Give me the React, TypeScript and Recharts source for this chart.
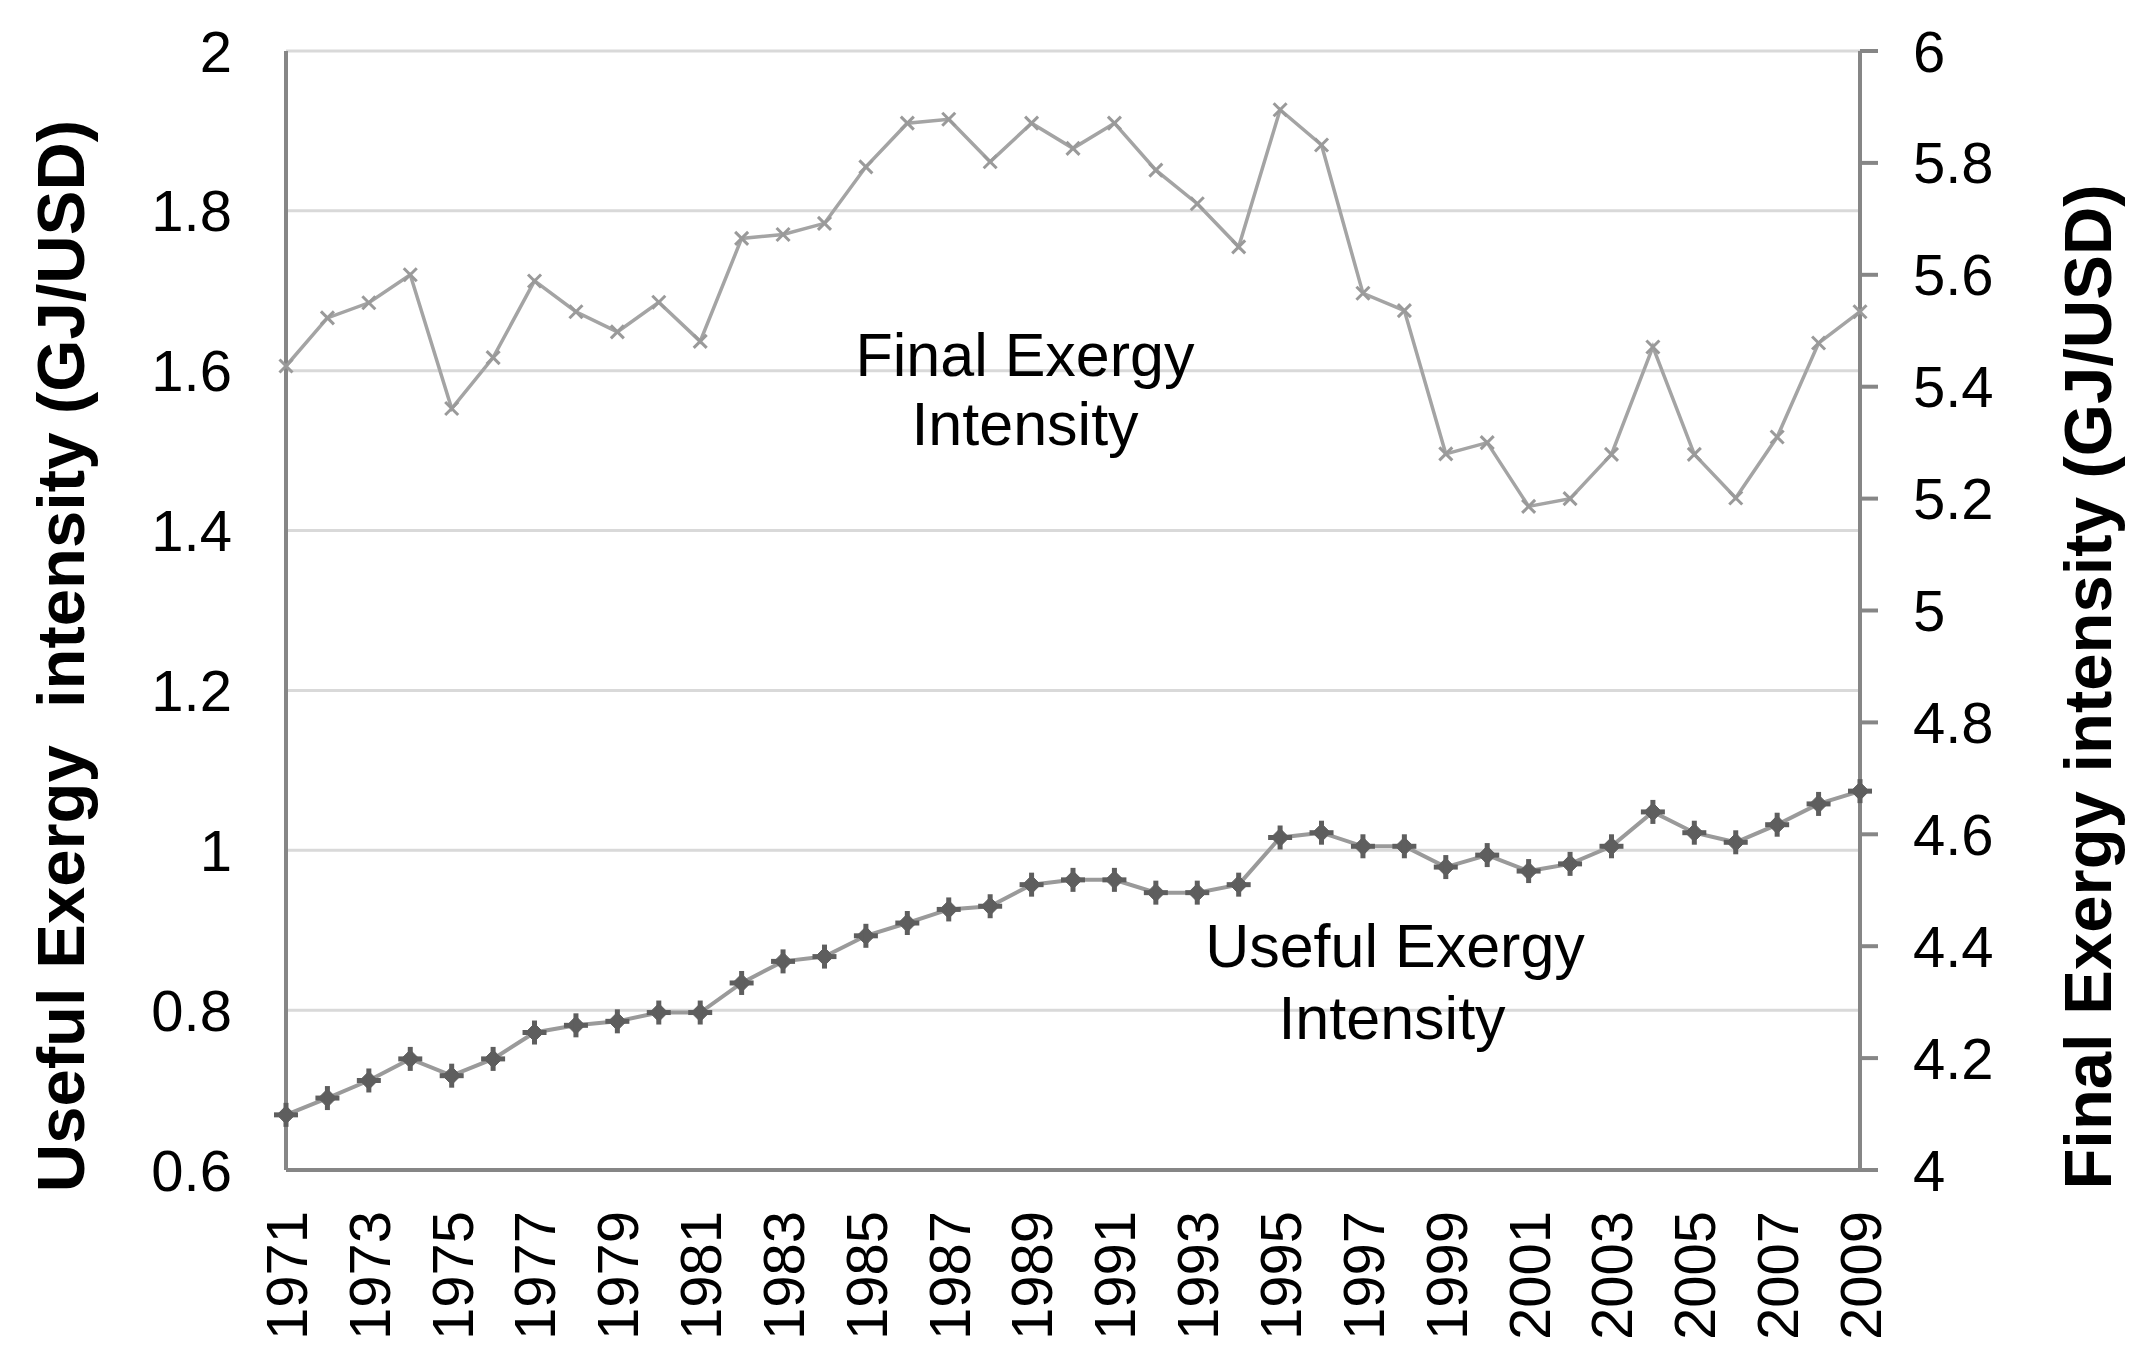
import { LineChart, Line, XAxis, YAxis, CartesianGrid } from 'recharts';

const years = [
  '1971', '1972', '1973', '1974', '1975', '1976', '1977', '1978', '1979', '1980',
  '1981', '1982', '1983', '1984', '1985', '1986', '1987', '1988', '1989', '1990',
  '1991', '1992', '1993', '1994', '1995', '1996', '1997', '1998', '1999', '2000',
  '2001', '2002', '2003', '2004', '2005', '2006', '2007', '2008', '2009',
];

// GJ/USD, left axis
const usefulExergy = [
  0.669, 0.690, 0.712, 0.739, 0.718, 0.739, 0.772, 0.781, 0.786, 0.797,
  0.797, 0.834, 0.861, 0.867, 0.893, 0.909, 0.926, 0.930, 0.957, 0.963,
  0.963, 0.947, 0.947, 0.957, 1.016, 1.022, 1.005, 1.005, 0.979, 0.994,
  0.974, 0.983, 1.005, 1.048, 1.022, 1.010, 1.032, 1.058, 1.074,
];

// GJ/USD, right axis
const finalExergy = [
  5.437, 5.523, 5.550, 5.600, 5.361, 5.452, 5.589, 5.534, 5.498, 5.551,
  5.481, 5.665, 5.672, 5.692, 5.793, 5.871, 5.878, 5.802, 5.871, 5.826,
  5.871, 5.787, 5.727, 5.650, 5.895, 5.832, 5.567, 5.536, 5.280, 5.300,
  5.186, 5.200, 5.279, 5.471, 5.279, 5.201, 5.310, 5.478, 5.534,
];

const usefulTicks = [0.6, 0.8, 1, 1.2, 1.4, 1.6, 1.8, 2];
const finalTicks = [4, 4.2, 4.4, 4.6, 4.8, 5, 5.2, 5.4, 5.6, 5.8, 6];

const data = years.map((year, i) => ({ year, useful: usefulExergy[i], final: finalExergy[i] }));

const FONT = "'Liberation Sans', Arial, sans-serif";
const AXIS = '#868686';
const GRID = '#d9d9d9';

function YearTick({ x, y, payload }: any) {
  return (
    <text x={x} y={y} dy="0.36em" transform={`rotate(-90 ${x} ${y})`} textAnchor="end"
      fontFamily={FONT} fontSize={58} fill="#000">
      {payload.value}
    </text>
  );
}

function CrossDot({ cx, cy, index }: any) {
  const s = 6.5;
  return (
    <g key={`c${index}`} stroke="#9a9a9a" strokeWidth={3}>
      <line x1={cx - s} y1={cy - s} x2={cx + s} y2={cy + s} />
      <line x1={cx - s} y1={cy + s} x2={cx + s} y2={cy - s} />
    </g>
  );
}

function PlusDot({ cx, cy, index }: any) {
  const a = 12, d = 9;
  return (
    <g key={`p${index}`} fill="#5e5e5e" stroke="#5e5e5e">
      <path d={`M${cx},${cy - d} L${cx + d},${cy} L${cx},${cy + d} L${cx - d},${cy} Z`} strokeWidth={1} />
      <line x1={cx - a} y1={cy} x2={cx + a} y2={cy} strokeWidth={5} />
      <line x1={cx} y1={cy - a} x2={cx} y2={cy + a} strokeWidth={5} />
    </g>
  );
}

export default function App() {
  return (
    <div style={{ position: 'absolute', left: 0, top: 0, width: 2155, height: 1364, background: '#fff' }}>
      <LineChart width={2155} height={1364} data={data}
        margin={{ top: 51, right: 7, left: 0, bottom: 4 }}>
        <CartesianGrid yAxisId="left" vertical={false} stroke={GRID} strokeWidth={3} />
        <XAxis dataKey="year" interval={1} height={190} tickSize={0} tickMargin={41}
          tickLine={false} axisLine={{ stroke: AXIS, strokeWidth: 4 }} tick={<YearTick />} />
        <YAxis yAxisId="left" orientation="left" width={286} domain={[0.6, 2]} ticks={usefulTicks}
          tickLine={false} tickSize={0} tickMargin={54} axisLine={{ stroke: AXIS, strokeWidth: 4 }}
          tick={{ fill: '#000', fontSize: 58, fontFamily: FONT }} />
        <YAxis yAxisId="right" orientation="right" width={288} domain={[4, 6]} ticks={finalTicks}
          tickLine={{ stroke: AXIS, strokeWidth: 4 }} tickSize={18} tickMargin={35}
          axisLine={{ stroke: AXIS, strokeWidth: 4 }}
          tick={{ fill: '#000', fontSize: 58, fontFamily: FONT }} />
        <Line yAxisId="right" dataKey="final" stroke="#a4a4a4" strokeWidth={3.5}
          dot={(p: any) => <CrossDot {...p} key={`c${p.index}`} />} isAnimationActive={false} />
        <Line yAxisId="left" dataKey="useful" stroke="#9a9a9a" strokeWidth={4}
          dot={(p: any) => <PlusDot {...p} key={`p${p.index}`} />} isAnimationActive={false} />
      </LineChart>
      <svg width={2155} height={1364} style={{ position: 'absolute', left: 0, top: 0, pointerEvents: 'none' }}>
        <text transform="translate(84 656) rotate(-90)" textAnchor="middle" fontFamily={FONT}
          fontWeight="bold" fontSize={67} fill="#000" style={{ whiteSpace: 'pre' }}>
          {'Useful Exergy  intensity (GJ/USD)'}
        </text>
        <text transform="translate(2111 687) rotate(-90)" textAnchor="middle" fontFamily={FONT}
          fontWeight="bold" fontSize={67} fill="#000">
          Final Exergy intensity (GJ/USD)
        </text>
        <g fontFamily={FONT} fontSize={61} fill="#000" textAnchor="middle">
          <text x={1025} y={376}>Final Exergy</text>
          <text x={1025} y={445}>Intensity</text>
          <text x={1395} y={967}>Useful Exergy</text>
          <text x={1392} y={1039}>Intensity</text>
        </g>
      </svg>
    </div>
  );
}
